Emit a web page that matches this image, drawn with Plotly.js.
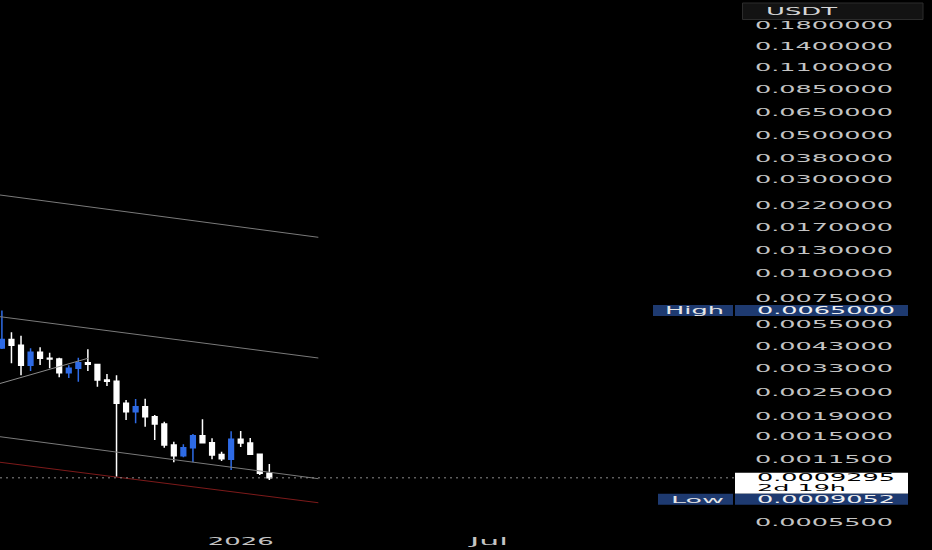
<!DOCTYPE html>
<html>
<head>
<meta charset="utf-8">
<script src="https://cdn.plot.ly/plotly-3.0.1.min.js"></script>
<style>
  html, body { margin: 0; padding: 0; background: #000; }
  #chart { width: 932px; height: 550px; }
</style>
</head>
<body>
<div id="chart"></div>
<script>
// ---- data (weekly candles, USDT) ----
const dates = ['2025-07-07','2025-07-14','2025-07-21','2025-07-28','2025-08-04','2025-08-11','2025-08-18','2025-08-25',
  '2025-09-01','2025-09-08','2025-09-15','2025-09-22','2025-09-29','2025-10-06','2025-10-13','2025-10-20','2025-10-27',
  '2025-11-03','2025-11-10','2025-11-17','2025-11-24','2025-12-01','2025-12-08','2025-12-15','2025-12-22','2025-12-29',
  '2026-01-05','2026-01-12','2026-01-19'];
const openP  = [0.004207,0.004644,0.00434,0.003441,0.004002,0.003732,0.0037,0.003158,0.003322,0.003546,0.00347,0.0029,
  0.00286,0.002211,0.002005,0.002126,0.001892,0.001739,0.001361,0.001202,0.001319,0.001517,0.001399,0.00122,0.001155,
  0.001455,0.001394,0.001222,0.00098];
const highP  = [0.0065,0.00505,0.004854,0.004193,0.004242,0.003983,0.003758,0.003441,0.003758,0.004144,0.00348,0.00311,
  0.003063,0.002298,0.002325,0.002333,0.00193,0.001786,0.001415,0.001373,0.001548,0.001836,0.001472,0.001259,0.001597,
  0.001602,0.001477,0.001225,0.001092];
const lowP   = [0.004158,0.003522,0.003063,0.003219,0.003452,0.003322,0.002992,0.002968,0.002843,0.003219,0.002683,0.002704,
  0.000942,0.001821,0.001752,0.001684,0.001443,0.001319,0.001114,0.00118,0.001114,0.001389,0.001153,0.001131,0.001018,
  0.00133,0.001212,0.0009606,0.0009052];
const closeP = [0.004644,0.004341,0.003441,0.004002,0.003732,0.0037,0.003158,0.003322,0.003546,0.003481,0.0029,0.002856,
  0.002211,0.002005,0.002126,0.001892,0.001739,0.001361,0.001202,0.001319,0.001517,0.001399,0.001212,0.001161,0.001455,
  0.001394,0.001222,0.0009798,0.0009295];

// trend lines drawn on the chart: [start, end]
const lineA_x = ['2025-07-05 14:24','2026-02-23 22:00']; const lineA_y = [0.02493, 0.01524];
const lineB_x = ['2025-07-05 14:24','2026-02-23 22:00']; const lineB_y = [0.006054, 0.003745];
const lineC_x = ['2025-07-05 14:24','2025-09-08 19:00']; const lineC_y = [0.002784, 0.003745];
const lineD_x = ['2025-07-05 14:24','2026-02-23 22:00']; const lineD_y = [0.0014995, 0.0009202];
const lineE_x = ['2025-07-05 14:24','2026-02-23 22:00']; const lineE_y = [0.001114, 0.0006958];

// axis ticks
const yTickVals = [0.18,0.14,0.11,0.085,0.065,0.05,0.038,0.03,0.022,0.017,0.013,0.01,0.0075,0.0055,0.0043,0.0033,
  0.0025,0.0019,0.0015,0.00115,0.00055];
const yTickText = yTickVals.map(v => v.toFixed(7));
const xTickVals = ['2025-12-29','2026-06-29'];
const xTickText = ['2026','Jul'];
const currency = 'USDT';
const timeLeft = '2d 19h';

// ---- derived values ----
const lastClose = closeP[closeP.length - 1];
const hiVal = Math.max(...highP);
const loVal = Math.min(...lowP);

const FONT = 'DejaVu Sans, sans-serif';
const FS = 10;
const TXT = '#c4c4c4';
const BLUE = '#2e6be6';
const NAVY = '#1e3a70';
const Y_RANGE = [-3.29524, -0.61847];
const PW = 735, PH = 530; // plot area size in px (margins l=0, t=0)

const candles = {
  type: 'candlestick', x: dates, open: openP, high: highP, low: lowP, close: closeP,
  increasing: {line: {color: BLUE, width: 1.5}, fillcolor: BLUE},
  decreasing: {line: {color: '#ffffff', width: 1.5}, fillcolor: '#ffffff'},
  hoverinfo: 'skip', showlegend: false
};
function tl(x, y, color) {
  return {type: 'scatter', mode: 'lines', x: x, y: y, line: {color: color, width: 1},
    hoverinfo: 'skip', showlegend: false};
}
const traces = [
  tl(lineA_x, lineA_y, '#7a7a7a'),
  tl(lineB_x, lineB_y, '#7a7a7a'),
  tl(lineC_x, lineC_y, '#8a8a8a'),
  tl(lineD_x, lineD_y, '#7a7a7a'),
  tl(lineE_x, lineE_y, '#7d1a1a'),
  candles
];

const px = p => p / PW;                                     // paper x from pixel
const valFrac = v => (Math.log10(v) - Y_RANGE[0]) / (Y_RANGE[1] - Y_RANGE[0]); // paper y of a price
const off = (v, dpx) => valFrac(v) + dpx / PH;              // paper y of a price shifted by px (up +)

function box(x0, x1, val, up, down, fill) {
  return {type: 'rect', xref: 'paper', yref: 'paper',
    x0: px(x0), x1: px(x1), y0: off(val, -down), y1: off(val, up),
    fillcolor: fill, line: {width: 0}, layer: 'above'};
}
function label(text, x, val, shift, color, size) {
  return {xref: 'paper', yref: 'paper', x: px(x), y: off(val, shift), text: text,
    showarrow: false, xanchor: 'left', yanchor: 'middle', align: 'left', borderpad: 0,
    font: {family: FONT, size: size, color: color}};
}

const shapes = [
  {type: 'line', xref: 'paper', yref: 'y', x0: 0, x1: 1, y0: lastClose, y1: lastClose,
    line: {color: '#8c8c8c', width: 1, dash: '2px,4px'}},
  {type: 'rect', xref: 'paper', yref: 'paper', x0: px(742.5), x1: px(923), y0: 1 - 3/PH, y1: 1 - 19.5/PH,
    fillcolor: '#131313', line: {color: '#2c2c2c', width: 1}, layer: 'above'},
  box(653, 733, hiVal, 5.5, 5.5, NAVY),
  box(735, 908, hiVal, 5.5, 5.5, NAVY),
  box(735, 908, lastClose, 5, 16, '#ffffff'),
  box(658, 733, lastClose, -16, 27, NAVY),
  box(735, 908, lastClose, -16, 27, NAVY)
];

const annotations = [
  {xref: 'paper', yref: 'paper', x: px(765), y: 1 - 11.5/PH, text: currency, showarrow: false,
    xanchor: 'left', yanchor: 'middle', align: 'left', borderpad: 0,
    font: {family: FONT, size: FS, color: '#d6d6d6'}},
  label('High', 664, hiVal, 0, '#e6e6e6', 10),
  label(hiVal.toFixed(7), 756, hiVal, 0, '#f0f0f0', 10),
  label(lastClose.toFixed(7), 756, lastClose, 0, '#000000', 10),
  label(timeLeft, 756, lastClose, -10, '#000000', 9.5),
  label('Low', 670, lastClose, -21.5, '#e6e6e6', 9.5),
  label(loVal.toFixed(7), 756, lastClose, -21.5, '#f0f0f0', 10)
];
// widths (px) of the horizontally wide labels, in the order of the annotations above
const annWidths = [71, 59, 138, 138, 89, 53, 138];

const layout = {
  width: 932, height: 550,
  margin: {l: 0, r: 932 - PW, t: 0, b: 550 - PH, pad: 0},
  paper_bgcolor: '#000000', plot_bgcolor: '#000000',
  showlegend: false,
  font: {family: FONT, size: FS, color: TXT},
  xaxis: {type: 'date', range: ['2025-07-05 14:24', '2026-12-26 07:12'],
    tickvals: xTickVals, ticktext: xTickText, showgrid: false, zeroline: false, showline: false,
    ticks: '', ticklabelstandoff: 4, rangeslider: {visible: false}, fixedrange: true,
    tickfont: {family: FONT, size: FS, color: TXT}},
  yaxis: {type: 'log', side: 'right', range: Y_RANGE,
    tickvals: yTickVals, ticktext: yTickText, showgrid: false, zeroline: false, showline: false,
    ticks: '', ticklabelstandoff: 19, ticklabelshift: -1.5, fixedrange: true,
    tickfont: {family: FONT, size: FS, color: TXT}},
  shapes: shapes,
  annotations: annotations
};

// stretch text horizontally (the reference's labels are wide)
function stretch(el, w) {
  el.setAttribute('textLength', w);
  el.setAttribute('lengthAdjust', 'spacingAndGlyphs');
}
Plotly.newPlot('chart', traces, layout, {displayModeBar: false, staticPlot: true}).then(gd => {
  gd.querySelectorAll('.ytick text').forEach(t => stretch(t, 138));
  const xw = {'2026': 66, 'Jul': 38};
  gd.querySelectorAll('.xtick text').forEach(t => stretch(t, xw[t.textContent] || 60));
  gd.querySelectorAll('g.annotation').forEach(g => {
    const i = +g.getAttribute('data-index');
    const t = g.querySelector('text');
    if (t && annWidths[i]) stretch(t, annWidths[i]);
  });
});
</script>
</body>
</html>
